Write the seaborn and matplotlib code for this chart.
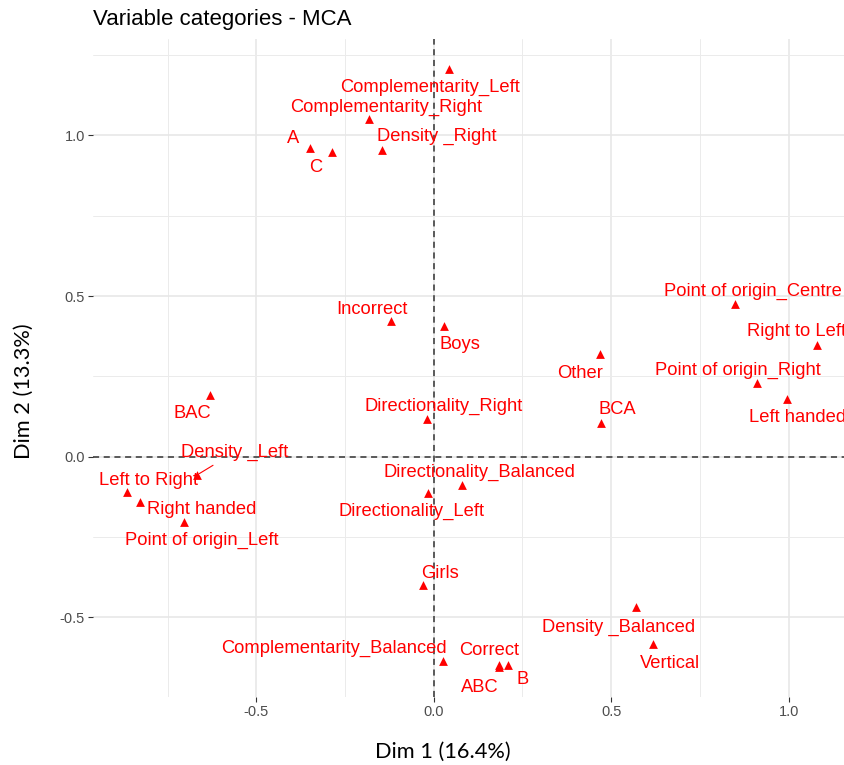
import matplotlib
matplotlib.use("Agg")
import matplotlib.pyplot as plt
import seaborn as sns
import pandas as pd
from matplotlib.ticker import MultipleLocator

# category names and coordinates on Dim 1 / Dim 2
categories = ["A", "C", "Complementarity_Right", "Complementarity_Left", "Density _Right",
              "Incorrect", "BAC", "Density _Left", "Left to Right", "Right handed",
              "Point of origin_Left", "Directionality_Right", "Directionality_Left",
              "Directionality_Balanced", "Boys", "Other", "BCA", "Point of origin_Centre",
              "Right to Left", "Point of origin_Right", "Left handed", "Girls",
              "Density _Balanced", "Vertical", "Complementarity_Balanced", "Correct",
              "ABC", "B"]
dim1 = [-0.350, -0.286, -0.181, 0.044, -0.145,
        -0.119, -0.630, -0.667, -0.863, -0.827,
        -0.703, -0.018, -0.016,
        0.081, 0.030, 0.468, 0.470, 0.850,
        1.081, 0.911, 0.996, -0.031,
        0.571, 0.617, 0.027, 0.183,
        0.183, 0.210]
dim2 = [0.960, 0.947, 1.051, 1.206, 0.955,
        0.422, 0.191, -0.057, -0.111, -0.142,
        -0.202, 0.116, -0.112,
        -0.087, 0.407, 0.320, 0.105, 0.474,
        0.348, 0.230, 0.180, -0.400,
        -0.468, -0.584, -0.636, -0.648,
        -0.655, -0.647]

# label offsets in pixels (repel-like placement)
label_offsets = {
    "A": (-16, 10), "C": (-17, -15), "Complementarity_Right": (17, 12),
    "Complementarity_Left": (-19, -18), "Density _Right": (54, 13),
    "Incorrect": (-20, 12), "BAC": (-18, -18), "Density _Left": (38, 23),
    "Left to Right": (21, 12), "Right handed": (61, -7),
    "Point of origin_Left": (17, -19), "Directionality_Right": (16, 13),
    "Directionality_Left": (-17, -19), "Directionality_Balanced": (17, 12),
    "Boys": (16, -19), "Other": (-20, -20), "BCA": (17, 13),
    "Point of origin_Centre": (18, 13), "Right to Left": (-21, 13),
    "Point of origin_Right": (-19, 12), "Left handed": (10, -19),
    "Girls": (17, 12), "Density _Balanced": (-18, -20), "Vertical": (17, -19),
    "Complementarity_Balanced": (-109, 13), "Correct": (-10, 14),
    "ABC": (-19, -20), "B": (14, -15),
}

df = pd.DataFrame({"cat": categories, "Dim1": dim1, "Dim2": dim2})

sns.set_theme(style="white")
plt.rcParams['font.family'] = ['Liberation Sans', 'DejaVu Sans']

fig = plt.figure(figsize=(8.45, 7.65), dpi=100)
ax = fig.add_axes([0.1097, 0.0889, 0.8903, 0.8597])

ax.xaxis.set_major_locator(MultipleLocator(0.5))
ax.yaxis.set_major_locator(MultipleLocator(0.5))
ax.xaxis.set_minor_locator(MultipleLocator(0.25))
ax.yaxis.set_minor_locator(MultipleLocator(0.25))
ax.grid(which="major", color="#E6E6E6", lw=1.1)
ax.grid(which="minor", color="#EBEBEB", lw=0.7)
ax.set_axisbelow(True)
for s in ax.spines.values():
    s.set_visible(False)

ax.axhline(0, color="#333333", lw=1.1, ls=(0, (4, 3)), zorder=1)
ax.axvline(0, color="#333333", lw=1.1, ls=(0, (4, 3)), zorder=1)

sns.scatterplot(data=df, x="Dim1", y="Dim2", marker="^", color="red", s=40,
                linewidth=0, ax=ax, zorder=3)

for c, x, y in zip(categories, dim1, dim2):
    dx, dy = label_offsets[c]
    arrow = None
    if c == "Density _Left":
        arrow = dict(arrowstyle="-", color="red", lw=0.8, shrinkA=2, shrinkB=2)
    ax.annotate(c, (x, y), xytext=(dx, dy), textcoords="offset pixels",
                ha="center", va="center", color="red", fontsize=13.2,
                arrowprops=arrow, zorder=4)

ax.set_xlim(-0.961, 1.159)
ax.set_ylim(-0.748, 1.299)

ax.tick_params(which="major", length=3.5, width=0.8, color="#333333",
               labelcolor="#4D4D4D", labelsize=10.5, pad=2, bottom=True, left=True)
ax.tick_params(which="minor", length=0)
ax.set_xticks([-0.5, 0.0, 0.5, 1.0])
ax.set_xticklabels(["-0.5", "0.0", "0.5", "1.0"])
ax.set_yticks([-0.5, 0.0, 0.5, 1.0])
ax.set_yticklabels(["-0.5", "0.0", "0.5", "1.0"])

ax.set_xlabel("Dim 1 (16.4%)", fontsize=15.7, family=["Lato", "DejaVu Sans"],
              color="black", va="center")
ax.set_ylabel("Dim 2 (13.3%)", fontsize=15.7, family=["Lato", "DejaVu Sans"],
              color="black", va="center")
ax.xaxis.set_label_coords(0.4656, -0.0832)
ax.yaxis.set_label_coords(-0.0913, 0.4653)
ax.set_title("Variable categories - MCA", loc="left", fontsize=16,
             color="black", pad=10)

fig.savefig("out.png", dpi=100)
